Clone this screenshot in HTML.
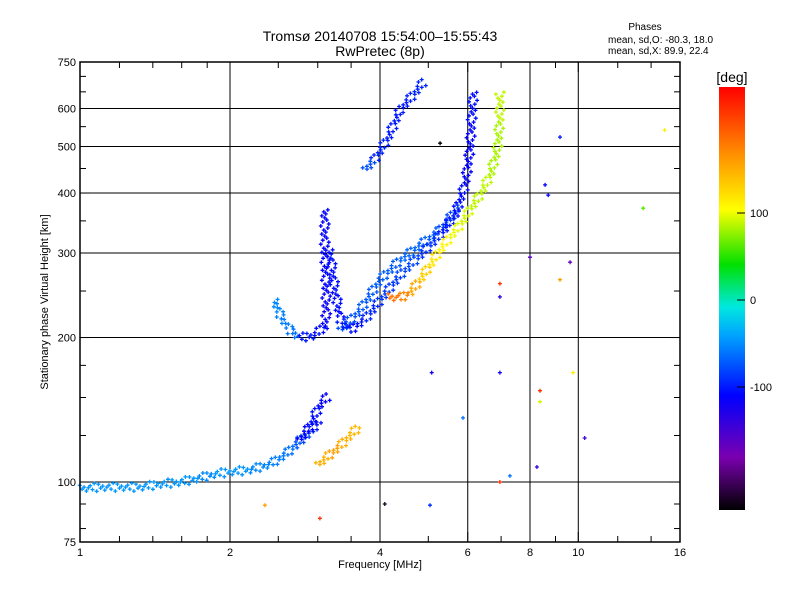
<!DOCTYPE html>
<html><head><meta charset="utf-8"><style>
body{margin:0;background:#fff;}
svg text{font-family:"Liberation Sans",sans-serif;fill:#000;}
</style></head><body>
<svg id="chart" width="800" height="600" xmlns="http://www.w3.org/2000/svg">
<rect width="800" height="600" fill="#fff"/>
<text x="380" y="41" font-size="14" text-anchor="middle">Tromsø 20140708 15:54:00–15:55:43</text>
<text x="380" y="56" font-size="14" text-anchor="middle">RwPretec (8p)</text>
<text x="645" y="30" font-size="10" text-anchor="middle">Phases</text>
<text x="608" y="43" font-size="10">mean, sd,O: -80.3, 18.0</text>
<text x="608" y="54" font-size="10">mean, sd,X:  89.9, 22.4</text>
<text x="380" y="568" font-size="11" text-anchor="middle">Frequency [MHz]</text>
<text x="48" y="302" font-size="11" text-anchor="middle" transform="rotate(-90 48 302)">Stationary phase Virtual Height [km]</text>
<defs><linearGradient id="cb" x1="0" y1="1" x2="0" y2="0">
<stop offset="0" stop-color="#000"/><stop offset="0.125" stop-color="#7a00b0"/><stop offset="0.27" stop-color="#0000ff"/><stop offset="0.41" stop-color="#00a0ff"/><stop offset="0.48" stop-color="#00e8e0"/><stop offset="0.58" stop-color="#00e000"/><stop offset="0.71" stop-color="#ffff00"/><stop offset="0.84" stop-color="#ff9000"/><stop offset="1" stop-color="#ff0000"/></linearGradient></defs>
<rect x="719" y="87" width="26" height="423" fill="url(#cb)"/>
<text x="732" y="82" font-size="14" text-anchor="middle">[deg]</text>
<g id="cbticks"></g>
<g id="grid"></g><g id="marks"></g><g id="axes"></g>
</svg>
<script>
const xTicks=[1,2,4,6,8,10,16];
const yTicks=[75,100,200,300,400,500,600,750];
const gridX=[2,4,6,8,10];
const gridY=[100,200,300,400,500,600];
const cbTicks=[100,0,-100];
// traces: freq, height, phase
const traceEFreq=[1.0,1.1,1.2,1.32,1.45,1.59,1.74,1.87,2.0,2.19,2.41,2.58,2.7,2.76,2.9,2.96,3.03];
const traceEHeight=[97,97.6,97.6,97.6,99,100,102,104,105,106,109,114,119,122,127,131,135];
const traceEPhase=[-45,-45,-45,-45,-45,-45,-50,-45,-45,-50,-55,-60,-70,-80,-100,-105,-105];
const traceE2Freq=[2.76,2.9,3.03,3.17];
const traceE2Height=[122,131,145,152];
const traceE2Phase=[-110,-105,-110,-100];
const traceEsFreq=[3.0,3.17,3.33,3.48,3.65];
const traceEsHeight=[108.5,114,119,125,131];
const traceEsPhase=[150,160,150,145,150];
const traceHookFreq=[2.46,2.52,2.64,2.76,2.96,3.1];
const traceHookHeight=[239,223,207,200,202,212];
const traceHookPhase=[-50,-55,-60,-100,-105,-105];
const traceVertFreq=[3.1,3.1,3.12,3.12,3.1];
const traceVertHeight=[369,304,251,218,207];
const traceVertPhase=[-110,-110,-115,-110,-115];
const traceOFreq=[3.17,3.25,3.33,3.48,3.73,4.0,4.39,4.82,5.28,5.66,5.93,6.06,6.11,6.17];
const traceOHeight=[304,251,218,207,218,239,270,297,327,360,416,492,568,655];
const traceOPhase=[-105,-105,-100,-105,-95,-85,-80,-90,-100,-105,-110,-110,-105,-105];
const traceO2Freq=[3.33,3.65,4.0,4.39,4.82,5.28,5.8];
const traceO2Height=[207,228,264,290,312,335,378];
const traceO2Phase=[-75,-70,-70,-65,-70,-80,-90];
const traceXFreq=[4.15,4.39,4.6,4.82,5.04,5.28,5.53,5.8,6.06,6.35,6.66,6.88,6.96,6.96];
const traceXHeight=[243,242,248,264,283,304,324,343,369,396,436,492,568,655];
const traceXPhase=[185,175,155,130,115,105,95,90,85,85,80,80,85,85];
const traceUpFreq=[3.73,3.9,4.15,4.39,4.6,4.93];
const traceUpHeight=[447,469,520,596,630,688];
const traceUpPhase=[-75,-95,-100,-100,-95,-90];
const scatterFreq=[2.35,3.03,4.09,5.04,6.96,6.96,6.96,5.87,5.08,6.96,7.29,8.26,8,8.38,8.38,9.76,10.3,9.63,9.19,8.7,9.19,14.9,13.5,5.28,8.58];
const scatterHeight=[89.5,84,90,89.5,100,243,259,136,169,169,103,107.5,294,155,147,169,123.5,287,264,396,523,541,372,508,416];
const scatterPhase=[160,220,-230,-90,220,-130,220,-60,-120,-120,-60,-140,-160,220,90,110,-150,-170,160,-110,-100,110,60,-240,-110];

const X0=80,X1=680,Y0=62,Y1=542;
const xs=f=>X0+150*Math.log2(f);
const ys=h=>Y1-480*Math.log10(h/75);
const stops=[[-241,[0,0,0]],[-180,[122,0,176]],[-110,[0,0,255]],[-40,[0,160,255]],[-10,[0,232,224]],[40,[0,224,0]],[100,[255,255,0]],[170,[255,144,0]],[245,[255,0,0]]];
function col(v){v=Math.max(-241,Math.min(245,v));for(let i=1;i<stops.length;i++){if(v<=stops[i][0]){const a=stops[i-1],b=stops[i],t=(v-a[0])/(b[0]-a[0]);const c=a[1].map((x,k)=>Math.round(x+(b[1][k]-x)*t));return`rgb(${c})`;}}return'red';}
const NS='http://www.w3.org/2000/svg';
function mk(tag,at,parent){const e=document.createElementNS(NS,tag);for(const k in at)e.setAttribute(k,at[k]);document.getElementById(parent).appendChild(e);return e;}
gridX.forEach(f=>{const l=mk('line',{x1:xs(f),x2:xs(f),y1:Y0,y2:Y1,stroke:'#000','stroke-width':1},'grid');

});
gridY.forEach(h=>{const l=mk('line',{x1:X0,x2:X1,y1:ys(h),y2:ys(h),stroke:'#000','stroke-width':1},'grid');

});
function crossPath(x,y){return `M${(x-2).toFixed(1)},${y.toFixed(1)}h4M${x.toFixed(1)},${(y-2).toFixed(1)}v4`;}
const offs=[-3,1,-1,3,0,-2,2,-4,4];
const traces=[[traceEFreq,traceEHeight,traceEPhase,'trace-e'],[traceE2Freq,traceE2Height,traceE2Phase,'trace-e2'],[traceEsFreq,traceEsHeight,traceEsPhase,'trace-es'],[traceHookFreq,traceHookHeight,traceHookPhase,'trace-f1-hook'],[traceVertFreq,traceVertHeight,traceVertPhase,'trace-vertical'],[traceO2Freq,traceO2Height,traceO2Phase,'trace-o2'],[traceOFreq,traceOHeight,traceOPhase,'trace-o-mode'],[traceXFreq,traceXHeight,traceXPhase,'trace-x-mode'],[traceUpFreq,traceUpHeight,traceUpPhase,'trace-upper']];
traces.forEach(([F,H,P,name])=>{let k=0;for(let i=0;i<F.length-1;i++){const x1=xs(F[i]),y1=ys(H[i]),x2=xs(F[i+1]),y2=ys(H[i+1]);
const L=Math.hypot(x2-x1,y2-y1)||1,nx=-(y2-y1)/L,ny=(x2-x1)/L,n=Math.max(1,Math.round(L/2));let d='';
for(let j=0;j<n;j++){const t=j/n,o=offs[k++%offs.length];d+=crossPath(x1+(x2-x1)*t+nx*o,y1+(y2-y1)*t+ny*o);}
const s=mk('path',{d:d,stroke:col(P[i]),'stroke-width':1.3,fill:'none'},'marks');

}});
scatterFreq.forEach((f,i)=>{const p=mk('path',{d:crossPath(xs(f),ys(scatterHeight[i])),stroke:col(scatterPhase[i]),'stroke-width':1.3},'marks');

});
const fr=mk('rect',{x:X0,y:Y0,width:X1-X0,height:Y1-Y0,fill:'none',stroke:'#000','stroke-width':1.5},'axes');


const minorX=[1.2,1.4,1.6,1.8,2.5,3,3.5,5,7,9,12,14];
minorX.forEach(f=>{mk('line',{x1:xs(f),x2:xs(f),y1:Y1,y2:Y1-6,stroke:'#000'},'axes');mk('line',{x1:xs(f),x2:xs(f),y1:Y0,y2:Y0+6,stroke:'#000'},'axes');});
const minorY=[80,90,125,150,175,250,350,450,550,650,700];
minorY.forEach(h=>{mk('line',{x1:X0,x2:X0+6,y1:ys(h),y2:ys(h),stroke:'#000'},'axes');mk('line',{x1:X1,x2:X1-6,y1:ys(h),y2:ys(h),stroke:'#000'},'axes');});
xTicks.forEach(f=>{mk('line',{x1:xs(f),x2:xs(f),y1:Y1,y2:Y1-10,stroke:'#000'},'axes');mk('line',{x1:xs(f),x2:xs(f),y1:Y0,y2:Y0+10,stroke:'#000'},'axes');
const t=mk('text',{x:xs(f),y:556,'font-size':11,'text-anchor':'middle'},'axes');t.textContent=f;

});
yTicks.forEach(h=>{mk('line',{x1:X0,x2:X0+10,y1:ys(h),y2:ys(h),stroke:'#000'},'axes');mk('line',{x1:X1,x2:X1-10,y1:ys(h),y2:ys(h),stroke:'#000'},'axes');
const t=mk('text',{x:76,y:ys(h)+4,'font-size':11,'text-anchor':'end'},'axes');t.textContent=h;

});
const cy=v=>300-0.87*v;
cbTicks.forEach(v=>{mk('line',{x1:737,x2:745,y1:cy(v),y2:cy(v),stroke:'#000'},'cbticks');
const t=mk('text',{x:750,y:cy(v)+4,'font-size':11},'cbticks');t.textContent=v;

});
</script>
</body></html>
